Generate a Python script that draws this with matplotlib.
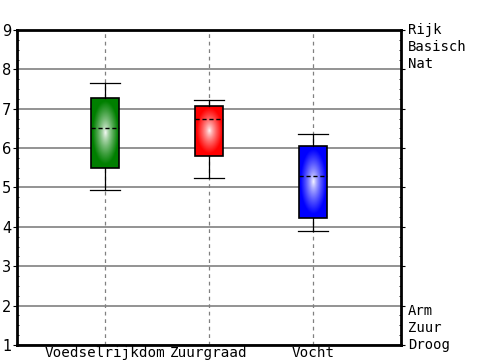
import numpy as np
import matplotlib
matplotlib.use("Agg")
import matplotlib.pyplot as plt
from matplotlib.ticker import MultipleLocator

# waarden
categorieen = ["Voedselrijkdom", "Zuurgraad", "Vocht"]
q1 = [5.49, 5.80, 4.22]
q3 = [7.27, 7.07, 6.05]
gemiddeld = [6.51, 6.74, 5.29]
whisker_laag = [4.93, 5.24, 3.89]
whisker_hoog = [7.65, 7.22, 6.36]
kleuren = [(0.0, 0.5, 0.0), (1.0, 0.0, 0.0), (0.0, 0.0, 1.0)]
labels_boven = ["Rijk", "Basisch", "Nat"]
labels_onder = ["Arm", "Zuur", "Droog"]

posities = np.arange(1, len(categorieen) + 1)

fig = plt.figure(figsize=(5, 3.6), dpi=100)
ax = fig.add_axes([0.034, 0.0417, 0.768, 0.875])

stats = []
for i in range(len(categorieen)):
    stats.append({"q1": q1[i], "q3": q3[i], "med": gemiddeld[i], "mean": gemiddeld[i],
                  "whislo": whisker_laag[i], "whishi": whisker_hoog[i], "fliers": []})

bp = ax.bxp(stats, positions=posities, widths=0.27, capwidths=0.29, patch_artist=True,
            showmeans=True, meanline=True, showfliers=False,
            boxprops=dict(facecolor="none", edgecolor="black", linewidth=1.2, zorder=4),
            whiskerprops=dict(color="black", linewidth=0.9, zorder=4),
            capprops=dict(color="black", linewidth=0.9, zorder=4),
            medianprops=dict(linewidth=0),
            meanprops=dict(color="black", linestyle=(0, (3, 2)), linewidth=1.0, zorder=5))

# radiaal kleurverloop in de dozen
n = 80
u, v = np.meshgrid(np.linspace(-1, 1, n), np.linspace(-1, 1, n))
r = np.clip(np.sqrt(u ** 2 + v ** 2) / 0.9, 0, 1) ** 0.75
for i, box in enumerate(bp["boxes"]):
    c = np.array(kleuren[i])
    img = (1 - r[..., None]) * np.ones(3) + r[..., None] * c
    im = ax.imshow(img, extent=[posities[i] - 0.135, posities[i] + 0.135, q1[i], q3[i]],
                   aspect="auto", zorder=3, interpolation="bilinear")
    im.set_clip_path(box)

ax.set_xlim(0.154, 3.846)
ax.set_ylim(1, 9)
ax.set_xticks(posities)
ax.set_xticklabels(categorieen, family="DejaVu Sans Mono", fontsize=10.3)
ax.set_yticks(range(1, 10))
ax.yaxis.set_minor_locator(MultipleLocator(0.25))
ax.tick_params(axis="y", which="major", length=3, pad=1, labelsize=10.5, right=True)
ax.tick_params(axis="y", which="minor", length=1.5, right=True, direction="in")
ax.tick_params(axis="x", length=0, pad=1)
for t in ax.yaxis.get_major_ticks():
    t.tick2line.set_color("#808080")

ax.set_axisbelow(True)
ax.yaxis.grid(True, color="#808080", linewidth=1.2)
ax.xaxis.grid(True, color="#808080", linestyle=(0, (3, 3)), linewidth=0.9)
for s in ax.spines.values():
    s.set_linewidth(2)

# labels rechts naast de as, regel voor regel
trans = ax.get_yaxis_transform()
regel = 12.2
for i, tekst in enumerate(labels_boven):
    ax.annotate(tekst, xy=(1, 9), xycoords=trans, xytext=(5, -i * regel),
                textcoords="offset points", va="center", ha="left",
                family="DejaVu Sans Mono", fontsize=10)
for i, tekst in enumerate(labels_onder):
    ax.annotate(tekst, xy=(1, 1), xycoords=trans, xytext=(5, (len(labels_onder) - 1 - i) * regel),
                textcoords="offset points", va="center", ha="left",
                family="DejaVu Sans Mono", fontsize=10)

fig.savefig("out.png", dpi=100)
